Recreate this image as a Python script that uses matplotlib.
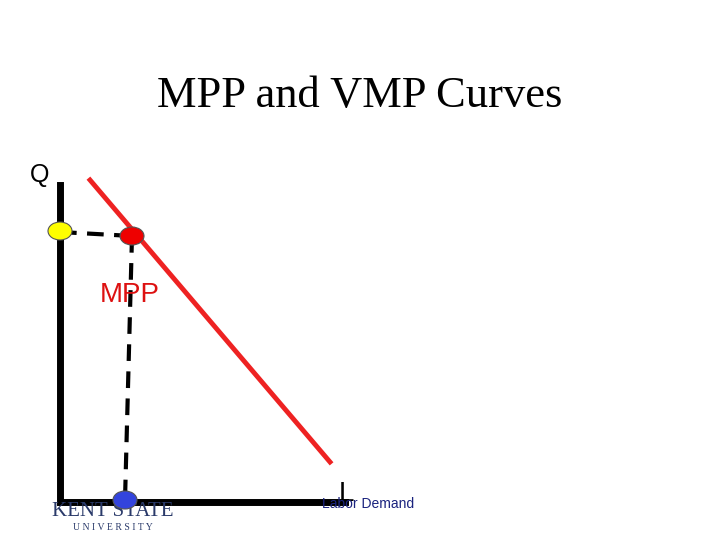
import matplotlib
matplotlib.use("Agg")
import matplotlib.pyplot as plt
from matplotlib.patches import Ellipse

# diagram data (pixel-space units of the slide)
axis_x = [60, 60, 345]
axis_y = [185, 502, 502]
mpp_x = [90, 330]
mpp_y = [180, 462]
dash_h_x = [60, 132]
dash_h_y = [232, 236]
dash_v_x = [132, 125]
dash_v_y = [236, 500]
points = [(60, 231, "#ffff00"), (132, 236, "#ee0000"), (125, 500, "#3344dd")]

fig = plt.figure(figsize=(7.2, 5.4), dpi=100)
ax = fig.add_axes([0, 0, 1, 1])
ax.set_xlim(0, 720)
ax.set_ylim(540, 0)
ax.axis("off")

ax.plot(dash_h_x, dash_h_y, color="black", lw=3, ls=(0, (4, 2.5)))
ax.plot(dash_v_x, dash_v_y, color="black", lw=3, ls=(0, (4, 2.5)))
ax.plot(axis_x, axis_y, color="black", lw=5, solid_joinstyle="miter")
ax.plot(mpp_x, mpp_y, color="#ee2222", lw=3.5)
for x, y, c in points:
    ax.add_patch(Ellipse((x, y), 24, 18, facecolor=c, edgecolor="#555555", lw=0.8, zorder=5))

ax.text(360, 96, "MPP and VMP Curves", family="Liberation Serif", fontsize=32,
        ha="center", va="center")
ax.text(40, 175, "Q", family="Liberation Sans", fontsize=18, ha="center", va="center")
ax.text(100, 295, "MPP", family="Liberation Sans", fontsize=20, color="#dd1111",
        ha="left", va="center")
ax.text(346, 494, "L", family="Liberation Sans", fontsize=20, ha="center", va="center")
ax.text(322, 504, "Labor Demand", family="Liberation Sans", fontsize=10,
        color="#1a237e", ha="left", va="center")
ax.text(113, 511, "KENT STATE", family="Liberation Serif", fontsize=15,
        color="#2a3a6a", ha="center", va="center")
ax.text(113, 527, "U N I V E R S I T Y", family="Liberation Serif", fontsize=7,
        color="#2a3a6a", ha="center", va="center")

fig.savefig("out.png", dpi=100)
